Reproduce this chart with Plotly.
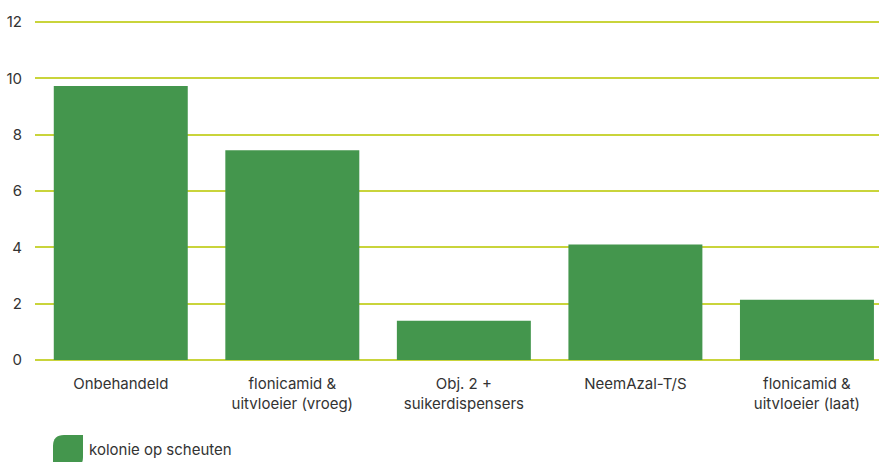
import plotly.graph_objects as go

categories = [
    "Onbehandeld",
    "flonicamid &<br>uitvloeier (vroeg)",
    "Obj. 2 +<br>suikerdispensers",
    "NeemAzal-T/S",
    "flonicamid &<br>uitvloeier (laat)",
]
series_name = "kolonie op scheuten"
values = [9.73, 7.45, 1.39, 4.1, 2.14]
y_ticks = [0, 2, 4, 6, 8, 10, 12]

W, H = 879, 462
L, R, T, B = 35, 0, 16, 102
BAR = "#44964d"
GRID = "#c9d43b"
TXT = "#333333"
FONT = "Inter, Roboto, sans-serif"

pw = W - L - R
ph = H - T - B
ytop = 12 * ph / 338.0

fig = go.Figure()
fig.add_trace(go.Bar(x=categories, y=values, name=series_name,
                     marker=dict(color=BAR, line=dict(width=0)),
                     showlegend=False, hoverinfo="skip"))


def px2paper(px, py):
    return (px - L) / pw, (H - B - py) / ph


# leaf-shaped legend swatch
x0, x1, y0, y1, r = 53, 83, 435, 468, 11
pts = []
ax, ay = px2paper(x0, y0 + r)
pts.append(f"M{ax},{ay}")
cx, cy = px2paper(x0, y0)
ex, ey = px2paper(x0 + r, y0)
pts.append(f"Q{cx},{cy} {ex},{ey}")
bx, by = px2paper(x1, y0)
pts.append(f"L{bx},{by}")
bx, by = px2paper(x1, y1 - r)
pts.append(f"L{bx},{by}")
cx, cy = px2paper(x1, y1)
ex, ey = px2paper(x1 - r, y1)
pts.append(f"Q{cx},{cy} {ex},{ey}")
bx, by = px2paper(x0, y1)
pts.append(f"L{bx},{by}")
pts.append("Z")
fig.add_shape(type="path", xref="paper", yref="paper", path=" ".join(pts),
              fillcolor=BAR, line=dict(width=0))
tx, ty = px2paper(87, 449)
fig.add_annotation(x=tx, y=ty, xref="paper", yref="paper", text=series_name,
                   showarrow=False, xanchor="left", yanchor="middle",
                   font=dict(family=FONT, size=15, color=TXT))

fig.update_layout(
    width=W, height=H,
    margin=dict(l=L, r=R, t=T, b=B),
    paper_bgcolor="white", plot_bgcolor="white",
    bargap=0.219,
    font=dict(family=FONT, size=15, color=TXT),
    xaxis=dict(range=[-0.5, 4.42], showgrid=False, zeroline=False,
               showline=False, ticks="", ticklabelstandoff=13,
               tickfont=dict(family=FONT, size=15, color=TXT)),
    yaxis=dict(range=[0, ytop], tickvals=y_ticks, showgrid=True,
               gridcolor=GRID, gridwidth=2, zeroline=True,
               zerolinecolor=GRID, zerolinewidth=2, showline=False,
               ticks="", ticklabelstandoff=12,
               tickfont=dict(family=FONT, size=15, color=TXT)),
)

fig.write_html("out.html", config={"displayModeBar": False},
               post_script="document.body.style.margin='0';document.body.style.overflow='hidden';")
